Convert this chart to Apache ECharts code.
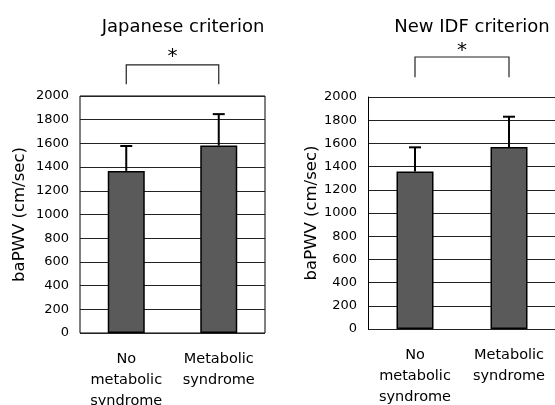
<!DOCTYPE html>
<html>
<head>
<meta charset="utf-8">
<script src="https://cdn.jsdelivr.net/npm/echarts@6/dist/echarts.min.js"></script>
<style>html,body{margin:0;padding:0;background:#fff;}#c{width:555px;height:405px;}</style>
</head>
<body>
<div id="c"></div>
<script>
const categories = ['No\nmetabolic\nsyndrome', 'Metabolic\nsyndrome'];
const yTicks = [0, 200, 400, 600, 800, 1000, 1200, 1400, 1600, 1800, 2000];
const titles = ['Japanese criterion', 'New IDF criterion'];
const japaneseMean = [1368, 1582];
const japaneseSD = [210, 265];
const idfMean = [1358, 1568];
const idfSD = [208, 262];
// significance bracket: [leftCategory, rightCategory, topValue, legBottomValue, starValue]
const japaneseBracket = [[0, 1, 2262, 2100, 2330]];
const idfBracket = [[0, 1, 2345, 2170, 2400]];

const FONT = 'DejaVu Sans';
const chart = echarts.init(document.getElementById('c'));

function errRender(params, api) {
  const x = api.value(0), m = api.value(1), sd = api.value(2);
  const p0 = api.coord([x, m]);
  const p1 = api.coord([x, m + sd]);
  const cap = 6;
  const st = { stroke: '#000', lineWidth: 2 };
  return { type: 'group', children: [
    { type: 'line', shape: { x1: p0[0], y1: p0[1], x2: p1[0], y2: p1[1] }, style: st },
    { type: 'line', shape: { x1: p1[0] - cap, y1: p1[1], x2: p1[0] + cap, y2: p1[1] }, style: st }
  ]};
}
function bracketRender(params, api) {
  const a = api.value(0), b = api.value(1), top = api.value(2), bot = api.value(3), star = api.value(4);
  const pa = api.coord([a, top]), pb = api.coord([b, top]);
  const pab = api.coord([a, bot]), pbb = api.coord([b, bot]);
  const ps = api.coord([a, star]);
  const st = { stroke: '#222', lineWidth: 1.2, fill: null };
  return { type: 'group', children: [
    { type: 'polyline', shape: { points: [[pab[0], pab[1]], [pa[0], pa[1]], [pb[0], pb[1]], [pbb[0], pbb[1]]] }, style: st },
    { type: 'text', style: { text: '*', x: (pa[0] + pb[0]) / 2, y: ps[1], textAlign: 'center', textVerticalAlign: 'middle', fontSize: 20, fontFamily: FONT, fill: '#000' } }
  ]};
}

const grids = [
  { left: 80, top: 96, width: 185, height: 237, show: true, borderColor: '#000', borderWidth: 1, outerBoundsMode: 'none', containLabel: false },
  { left: 368, top: 97, width: 188, height: 232, show: false, outerBoundsMode: 'none', containLabel: false }
];
const nameGaps = [52, 48];
const xAxes = grids.map((g, i) => ({
  type: 'category', gridIndex: i, data: categories,
  axisLine: { show: false }, axisTick: { show: false },
  axisLabel: { color: '#000', fontSize: 14.5, fontFamily: FONT, lineHeight: 21, margin: 16, interval: 0 }
}));
const yAxes = grids.map((g, i) => ({
  type: 'value', gridIndex: i, min: 0, max: 2000, interval: 200,
  name: 'baPWV (cm/sec)', nameLocation: 'middle', nameGap: nameGaps[i],
  nameTextStyle: { color: '#000', fontSize: 16.5, fontFamily: FONT },
  axisLine: { show: i === 1, lineStyle: { color: '#000', width: 1 } }, axisTick: { show: false },
  axisLabel: { color: '#000', fontSize: 13, fontFamily: FONT, margin: 11,
    formatter: v => yTicks.indexOf(v) >= 0 ? String(v) : '' },
  splitLine: { show: true, lineStyle: { color: '#222', width: 1 } }
}));

const barStyle = { color: '#5a5a5a', borderColor: '#000', borderWidth: 1.5 };
const sets = [[japaneseMean, japaneseSD, japaneseBracket], [idfMean, idfSD, idfBracket]];
const series = [];
sets.forEach((s, i) => {
  series.push({ type: 'bar', xAxisIndex: i, yAxisIndex: i, data: s[0], barWidth: 37, itemStyle: barStyle, z: 2 });
  series.push({ type: 'custom', xAxisIndex: i, yAxisIndex: i, renderItem: errRender,
    data: s[0].map((m, k) => [k, m, s[1][k]]), z: 3, clip: false });
  series.push({ type: 'custom', xAxisIndex: i, yAxisIndex: i, renderItem: bracketRender,
    data: s[2], z: 3, clip: false });
});

chart.setOption({
  animation: false,
  backgroundColor: '#fff',
  title: [
    { text: titles[0], left: 178, top: 13, textAlign: 'center', textStyle: { color: '#000', fontSize: 18, fontWeight: 'normal', fontFamily: FONT } },
    { text: titles[1], left: 467, top: 13, textAlign: 'center', textStyle: { color: '#000', fontSize: 18, fontWeight: 'normal', fontFamily: FONT } }
  ],
  grid: grids, xAxis: xAxes, yAxis: yAxes, series: series
});
</script>
</body>
</html>
